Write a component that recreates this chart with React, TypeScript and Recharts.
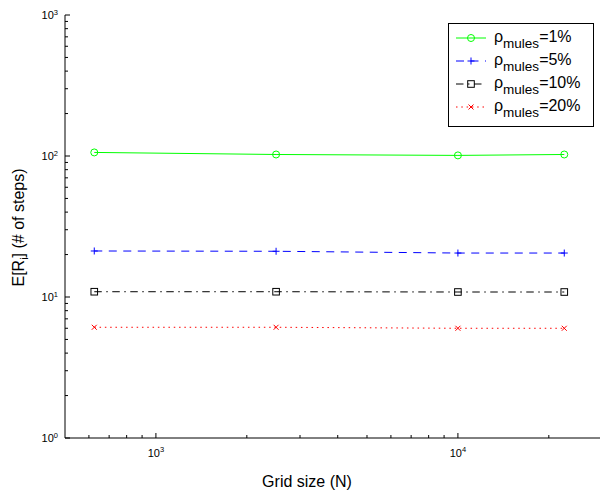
import React from 'react';
import { LineChart, Line, XAxis, YAxis, Legend } from 'recharts';

// grid sizes N (25², 50², 100², 150²) and mean steps per mule density
const gridSizes = [625, 2500, 10000, 22500];
const rho1 = [106, 102.5, 101, 102.5];
const rho5 = [21.2, 21.1, 20.5, 20.5];
const rho10 = [10.9, 10.9, 10.85, 10.85];
const rho20 = [6.1, 6.1, 6.0, 6.0];

const seriesLabels = ['=1%', '=5%', '=10%', '=20%'];

const xDomain = [500, 30000];
const yDomain = [1, 1000];
const xTicks = [600, 700, 800, 900, 1000, 2000, 3000, 4000, 5000, 6000, 7000, 8000, 9000, 10000, 20000, 30000];
const yTicks = [1, 2, 3, 4, 5, 6, 7, 8, 9, 10, 20, 30, 40, 50, 60, 70, 80, 90, 100, 200, 300, 400, 500, 600, 700, 800, 900, 1000];

const FONT = '"Liberation Sans", Arial, sans-serif';

type Shape = 'circle' | 'plus' | 'square' | 'cross';

const series = [
  { key: 'r1', values: rho1, color: '#00ff00', dash: undefined, shape: 'circle' as Shape },
  { key: 'r5', values: rho5, color: '#0000ff', dash: '8 6.5', shape: 'plus' as Shape },
  { key: 'r10', values: rho10, color: '#000000', dash: '7.5 4.5 1.5 4.5', shape: 'square' as Shape },
  { key: 'r20', values: rho20, color: '#ff0000', dash: '1.5 3.8', shape: 'cross' as Shape },
];

const data = gridSizes.map((n, i) => {
  const row: Record<string, number> = { n };
  series.forEach((s) => { row[s.key] = s.values[i]; });
  return row;
});

function Marker({ cx, cy, shape, color }: { cx: number; cy: number; shape: Shape; color: string }) {
  if (shape === 'circle') return <circle cx={cx} cy={cy} r={3.5} fill="none" stroke={color} strokeWidth={1} />;
  if (shape === 'plus')
    return <path d={`M${cx - 3.5},${cy}H${cx + 3.5}M${cx},${cy - 3.5}V${cy + 3.5}`} stroke={color} strokeWidth={1} />;
  if (shape === 'square')
    return <rect x={cx - 3.3} y={cy - 3.3} width={6.6} height={6.6} fill="none" stroke={color} strokeWidth={1} />;
  return (
    <path d={`M${cx - 2.5},${cy - 2.5}L${cx + 2.5},${cy + 2.5}M${cx - 2.5},${cy + 2.5}L${cx + 2.5},${cy - 2.5}`} stroke={color} strokeWidth={1} />
  );
}

const isDecade = (v: number) => Math.abs(Math.log10(v) - Math.round(Math.log10(v))) < 1e-9;

function Power({ x, y, exp, anchor, shift }: { x: number; y: number; exp: number; anchor: 'middle' | 'end'; shift: number }) {
  return (
    <text x={x} y={y} textAnchor={anchor} fontFamily={FONT} fontSize={11} fill="#000">
      10<tspan dy={shift} fontSize={7.5}>{exp}</tspan>
    </text>
  );
}

// ticks point inward on every side; only the bottom and left get labels
const BottomTick = (props: any) => {
  const { x, y, payload } = props;
  const major = isDecade(payload.value);
  return (
    <g>
      <line x1={x} x2={x} y1={y} y2={y - (major ? 5 : 3)} stroke="#000" />
      {major && <Power x={x} y={y + 19} exp={Math.round(Math.log10(payload.value))} anchor="middle" shift={-5} />}
    </g>
  );
};

const TopTick = (props: any) => {
  const { x, y, payload } = props;
  const major = isDecade(payload.value);
  return <line x1={x} x2={x} y1={y} y2={y + (major ? 5 : 3)} stroke="#000" />;
};

const LeftTick = (props: any) => {
  const { x, y, payload } = props;
  const major = isDecade(payload.value);
  return (
    <g>
      <line x1={x} x2={x + (major ? 5 : 3)} y1={y} y2={y} stroke="#000" />
      {major && <Power x={x - 7} y={y + 4.3} exp={Math.round(Math.log10(payload.value))} anchor="end" shift={-4.5} />}
    </g>
  );
};

const RightTick = (props: any) => {
  const { x, y, payload } = props;
  const major = isDecade(payload.value);
  return <line x1={x} x2={x - (major ? 5 : 3)} y1={y} y2={y} stroke="#000" />;
};

const YLabel = (props: any) => {
  const vb = props.viewBox;
  const cx = 24;
  const cy = vb.y + vb.height / 2 + 1;
  return (
    <text x={cx} y={cy} transform={`rotate(-90, ${cx}, ${cy})`} textAnchor="middle" fontFamily={FONT} fontSize={16} fill="#000">
      E[R<tspan dy={4} fontSize={11}>i</tspan><tspan dy={-4}>] (# of steps)</tspan>
    </text>
  );
};

// legend rows follow the series order (the payload comes back sorted by key)
const renderLegend = () => (
  <svg width={146} height={104} style={{ display: 'block' }}>
    <rect x={0.5} y={0.5} width={145} height={103} fill="#fff" stroke="#000" strokeWidth={1} />
    {series.map((s, i) => {
      const ly = 15 + i * 23;
      return (
        <g key={s.key}>
          <line x1={8} x2={38} y1={ly} y2={ly} stroke={s.color} strokeDasharray={s.dash} />
          <Marker cx={23} cy={ly} shape={s.shape} color={s.color} />
          <text x={46} y={ly + 3.7} fontFamily={FONT} fontSize={16} fill="#000">
            ρ<tspan dy={6.3} fontSize={13.5}>mules</tspan>
            <tspan dy={-6.3}>{seriesLabels[i]}</tspan>
          </text>
        </g>
      );
    })}
  </svg>
);

export default function App() {
  return (
    <div style={{ position: 'absolute', left: 0, top: 0, width: 600, height: 493, overflow: 'hidden', background: '#fff' }}>
      <LineChart width={604} height={493} data={data} margin={{ top: 15, right: 2, left: 0, bottom: 0 }}>
        <XAxis
          xAxisId="bottom"
          dataKey="n"
          type="number"
          scale="log"
          domain={xDomain}
          allowDataOverflow
          ticks={xTicks}
          interval={0}
          height={55}
          tickSize={0}
          tickMargin={0}
          tickLine={false}
          axisLine={{ stroke: '#000' }}
          tick={<BottomTick />}
          label={{ value: 'Grid size (N)', content: () => (
            <text x={307} y={487} textAnchor="middle" fontFamily={FONT} fontSize={16} fill="#000">Grid size (N)</text>
          ) }}
        />
        <XAxis
          xAxisId="top"
          orientation="top"
          dataKey="n"
          type="number"
          scale="log"
          domain={xDomain}
          allowDataOverflow
          ticks={xTicks}
          interval={0}
          height={0}
          tickSize={0}
          tickMargin={0}
          tickLine={false}
          axisLine={{ stroke: '#000' }}
          tick={<TopTick />}
        />
        <YAxis
          yAxisId="left"
          type="number"
          scale="log"
          domain={yDomain}
          allowDataOverflow
          ticks={yTicks}
          interval={0}
          width={65}
          tickSize={0}
          tickMargin={0}
          tickLine={false}
          axisLine={{ stroke: '#000' }}
          tick={<LeftTick />}
          label={{ value: 'E[Ri] (# of steps)', content: YLabel }}
        />
        <YAxis
          yAxisId="right"
          orientation="right"
          type="number"
          scale="log"
          domain={yDomain}
          allowDataOverflow
          ticks={yTicks}
          interval={0}
          width={0}
          tickSize={0}
          tickMargin={0}
          tickLine={false}
          axisLine={{ stroke: '#000' }}
          tick={<RightTick />}
        />
        <Legend
          content={renderLegend}
          layout="horizontal"
          verticalAlign="middle"
          align="center"
          wrapperStyle={{ position: 'absolute', left: 448, top: 23, width: 146, height: 104 }}
        />
        {series.map((s) => (
          <Line
            key={s.key}
            xAxisId="bottom"
            yAxisId="left"
            dataKey={s.key}
            type="linear"
            stroke={s.color}
            strokeWidth={1}
            strokeDasharray={s.dash}
            isAnimationActive={false}
            dot={(p: any) => <Marker key={`${s.key}-${p.index}`} cx={p.cx} cy={p.cy} shape={s.shape} color={s.color} />}
            activeDot={false}
          />
        ))}
      </LineChart>
    </div>
  );
}
